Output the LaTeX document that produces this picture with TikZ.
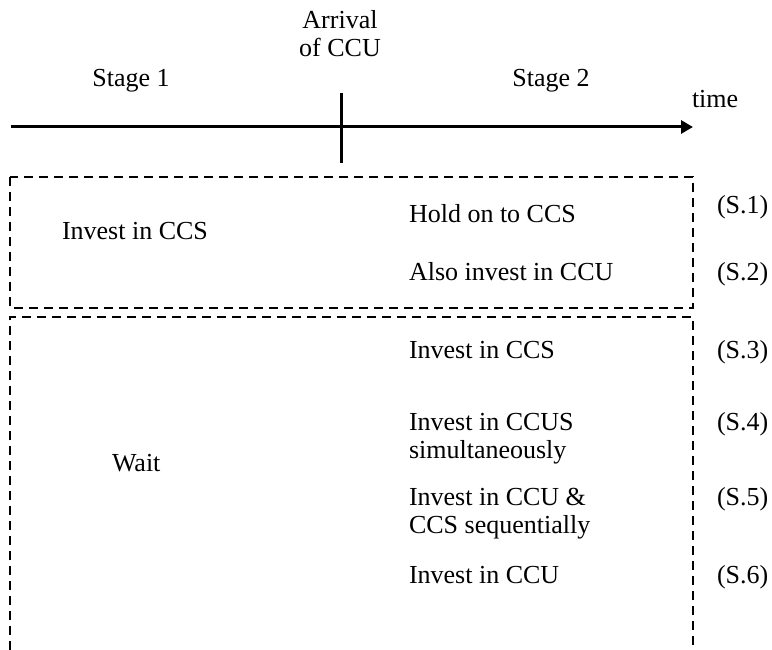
\documentclass[tikz,border=0pt]{standalone}
\usepackage{fontspec}
\setmainfont{Liberation Serif}
\usepackage{tikz}
\usetikzlibrary{arrows.meta}

\begin{document}
\begin{tikzpicture}[x=1pt,y=-1pt,
    txt/.style={inner sep=0pt,outer sep=0pt,font=\fontsize{26}{28}\selectfont},
    choix/.style={txt,anchor=base west,align=left},
    scen/.style={txt,anchor=base west},
    cadre/.style={line width=2pt,dash pattern=on 9pt off 6pt}]
      \useasboundingbox (0,0) rectangle (772,650);

      % Axe du temps
      \coordinate (T0) at (11,127);
      \coordinate (T1) at (693,127);
      \coordinate (M0) at (341,93);
      \coordinate (M1) at (341,163);
      \draw[line width=3pt,-{Triangle[length=12pt,width=13pt]}] (T0) -- (T1);
      \draw[line width=3pt] (M0) -- (M1);

      % (base = ligne du bas pour les nœuds sur deux lignes)
      \node[txt,anchor=base,align=center] (arrivee) at (340,57) {Arrival\\of CCU};
      \node[txt,anchor=base] (etape1) at (131,87) {Stage 1};
      \node[txt,anchor=base] (etape2) at (551,87) {Stage 2};
      \node[scen] (temps) at (692,108) {time};

      % Cadres en pointillés
      \draw[cadre] (10,177) rectangle (693,308);
      \draw[cadre] (10,650) -- (10,317) -- (693,317) -- (693,650);

      % Décisions de la première étape
      \node[choix] (invCCS) at (62,240) {Invest in CCS};
      \node[choix] (attente) at (112,471) {Wait};

      % Décisions de la seconde étape
      \node[choix] (garder) at (409,223) {Hold on to CCS};
      \node[choix] (aussi) at (409,280) {Also invest in CCU};
      \node[choix] (ccs) at (409,358) {Invest in CCS};
      \node[choix] (simul) at (409,458) {Invest in CCUS\\simultaneously};
      \node[choix] (sequ) at (409,533) {Invest in CCU \&\\CCS sequentially};
      \node[choix] (ccu) at (409,583) {Invest in CCU};

      % Numéros des scénarios
      \node[scen] (S1) at (717,214) {(S.1)};
      \node[scen] (S2) at (717,280) {(S.2)};
      \node[scen] (S3) at (717,358) {(S.3)};
      \node[scen] (S4) at (717,430) {(S.4)};
      \node[scen] (S5) at (717,505) {(S.5)};
      \node[scen] (S6) at (717,583) {(S.6)};
    \end{tikzpicture}
\end{document}
